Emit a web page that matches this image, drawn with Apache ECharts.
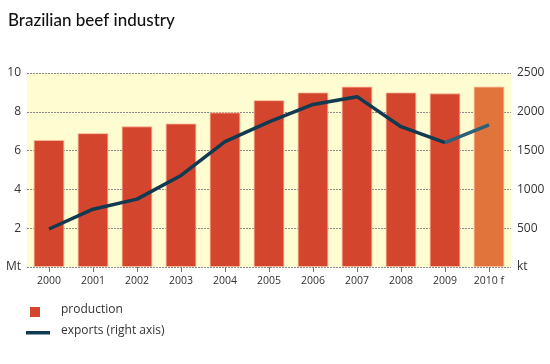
<!DOCTYPE html>
<html><head><meta charset="utf-8">
<script src="https://cdn.jsdelivr.net/npm/echarts@6/dist/echarts.min.js"></script>
<style>html,body{margin:0;padding:0;background:#fff}#c{width:550px;height:364px}</style>
</head><body><div id="c"></div>
<script>
const categories = ['2000','2001','2002','2003','2004','2005','2006','2007','2008','2009','2010 f'];
const production = [6.55, 6.9, 7.25, 7.4, 7.97, 8.6, 9.0, 9.3, 9.0, 8.95, 9.3];
const exportsKt = [490, 745, 875, 1180, 1615, 1870, 2095, 2195, 1808, 1602, 1830];
const leftTicks = [0, 2, 4, 6, 8, 10];
const rightTicks = [0, 500, 1000, 1500, 2000, 2500];

const chart = echarts.init(document.getElementById('c'));
const font = '"Open Sans", "Noto Sans", sans-serif';
const barData = production.map((v, i) => ({
  value: v,
  itemStyle: { color: i === production.length - 1 ? '#e0743a' : '#d4452d' }
}));
const mainLine = exportsKt.map((v, i) => i <= exportsKt.length - 2 ? v : null);
const fcLine = exportsKt.map((v, i) => i >= exportsKt.length - 2 ? v : null);

chart.setOption({
  animation: false,
  textStyle: { fontFamily: font },
  title: { text: 'Brazilian beef industry', left: 3, top: 7,
    textStyle: { fontFamily: 'Lato, "Open Sans", sans-serif', fontSize: 17, fontWeight: 500, color: '#111' } },
  grid: { left: 27, right: 39, top: 73, bottom: 97, show: true,
    backgroundColor: '#fefdd2', borderWidth: 0 },
  xAxis: { type: 'category', data: categories,
    axisLine: { show: false },
    axisTick: { show: true, alignWithLabel: true, length: 5, lineStyle: { color: '#777' } },
    axisLabel: { fontSize: 10.5, color: '#333', margin: 9, fontFamily: font } },
  yAxis: [
    { type: 'value', min: leftTicks[0], max: leftTicks[leftTicks.length - 1], interval: 2,
      axisLine: { show: false }, axisTick: { show: false },
      splitLine: { show: true, lineStyle: { color: '#8a8a8a', type: [2, 1], width: 1 } },
      axisLabel: { fontSize: 12, color: '#333', margin: 6, fontFamily: font,
        formatter: v => v === 0 ? 'Mt' : String(v) } },
    { type: 'value', min: rightTicks[0], max: rightTicks[rightTicks.length - 1], interval: 500,
      position: 'right',
      axisLine: { show: false }, axisTick: { show: false }, splitLine: { show: false },
      axisLabel: { fontSize: 12, color: '#333', margin: 6, fontFamily: font,
        formatter: v => v === 0 ? 'kt' : String(v) } }
  ],
  series: [
    { type: 'bar', yAxisIndex: 0, data: barData, barWidth: '70%',
      itemStyle: { borderColor: 'rgba(255,190,160,0.8)', borderWidth: 1 } },
    { type: 'line', yAxisIndex: 1, data: mainLine, symbol: 'none', connectNulls: false,
      lineStyle: { color: '#0f3a52', width: 3.5 } },
    { type: 'line', yAxisIndex: 1, data: fcLine, symbol: 'none',
      lineStyle: { color: '#2e6078', width: 3.5 } }
  ],
  graphic: [
    { type: 'rect', shape: { x: 30, y: 307, width: 10, height: 10 }, style: { fill: '#d4452d' } },
    { type: 'text', left: 61, top: 304, style: { text: 'production', fontSize: 12, fill: '#333', fontFamily: font } },
    { type: 'rect', shape: { x: 26, y: 331, width: 24, height: 3.5 }, style: { fill: '#0f3a52' } },
    { type: 'text', left: 61, top: 325, style: { text: 'exports (right axis)', fontSize: 12, fill: '#333', fontFamily: font } }
  ]
});
</script></body></html>
